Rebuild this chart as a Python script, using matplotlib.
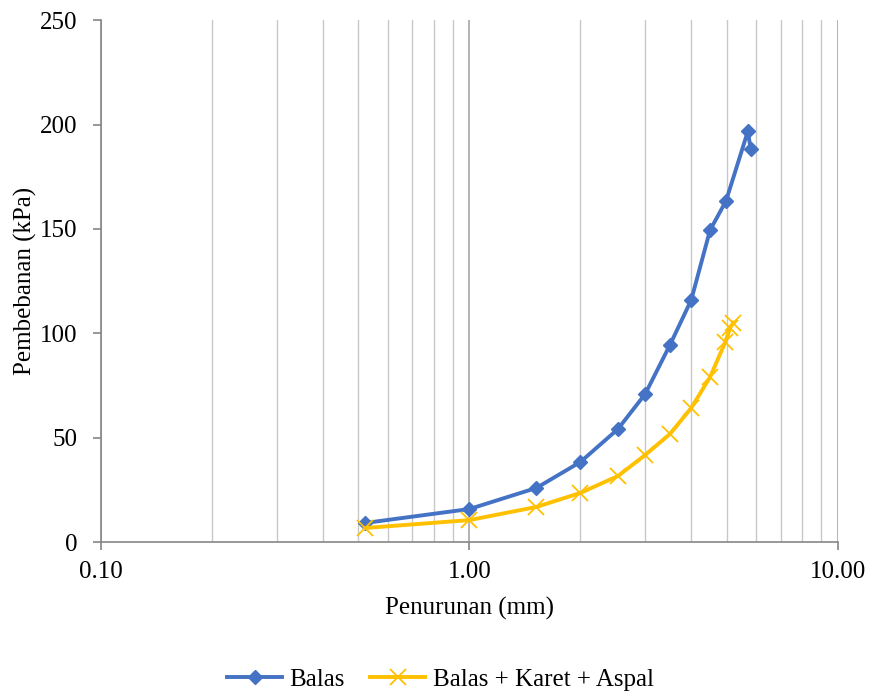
import matplotlib.pyplot as plt
from matplotlib.ticker import FuncFormatter, LogLocator, NullFormatter

# data
balas_x = [0.52, 1.0, 1.52, 2.0, 2.53, 3.0, 3.5, 4.0, 4.5, 4.97, 5.7, 5.8]
balas_y = [9.1, 15.8, 25.9, 38.3, 54.1, 70.9, 94.3, 115.9, 149.4, 163.3, 196.8, 188.2]
karet_x = [0.52, 1.0, 1.52, 2.0, 2.53, 3.0, 3.5, 4.0, 4.5, 4.95, 5.1, 5.2]
karet_y = [6.7, 10.5, 16.8, 23.5, 31.6, 41.7, 51.7, 64.2, 79.0, 95.8, 102.5, 105.0]

plt.rcParams['font.family'] = ['Liberation Serif', 'DejaVu Serif']
plt.rcParams['font.size'] = 18

fig = plt.figure(figsize=(8.72, 6.94), dpi=100)
ax = fig.add_axes([0.1158, 0.219, 0.845, 0.752])

ax.plot(balas_x, balas_y, color="#4472C4", lw=2.8, marker="D", ms=7.5,
        label="Balas", zorder=3)
ax.plot(karet_x, karet_y, color="#FFC000", lw=2.8, marker="x", ms=11, mew=1.3,
        label="Balas + Karet + Aspal", zorder=3)

ax.set_xscale("log")
ax.set_xlim(0.1, 10)
ax.set_ylim(0, 250)
ax.set_yticks([0, 50, 100, 150, 200, 250])
ax.xaxis.set_major_locator(LogLocator(base=10, numticks=5))
ax.xaxis.set_major_formatter(FuncFormatter(lambda v, p: f"{v:.2f}"))
ax.xaxis.set_minor_locator(LogLocator(base=10, subs=range(2, 10), numticks=20))
ax.xaxis.set_minor_formatter(NullFormatter())

ax.grid(True, which="major", axis="x", color="#A6A6A6", lw=1.2)
ax.grid(True, which="minor", axis="x", color="#C8C8C8", lw=1.0)
ax.set_axisbelow(True)

for s in ["top", "right"]:
    ax.spines[s].set_visible(False)
for s in ["left", "bottom"]:
    ax.spines[s].set_color("#868686")
    ax.spines[s].set_linewidth(1.2)
ax.tick_params(axis="both", which="major", color="#868686", length=6, width=1.2)
ax.tick_params(axis="y", which="major", pad=11)
ax.tick_params(axis="x", which="major", pad=8)
ax.tick_params(axis="x", which="minor", length=0)

ax.set_xlabel("Penurunan (mm)", labelpad=10)
ax.set_ylabel("Pembebanan (kPa)", labelpad=2)

fig.legend(loc="lower center", bbox_to_anchor=(0.505, -0.028), ncol=2, frameon=False,
           handlelength=2.2, handletextpad=0.3, columnspacing=1.0)

fig.savefig("out.png", dpi=100)
